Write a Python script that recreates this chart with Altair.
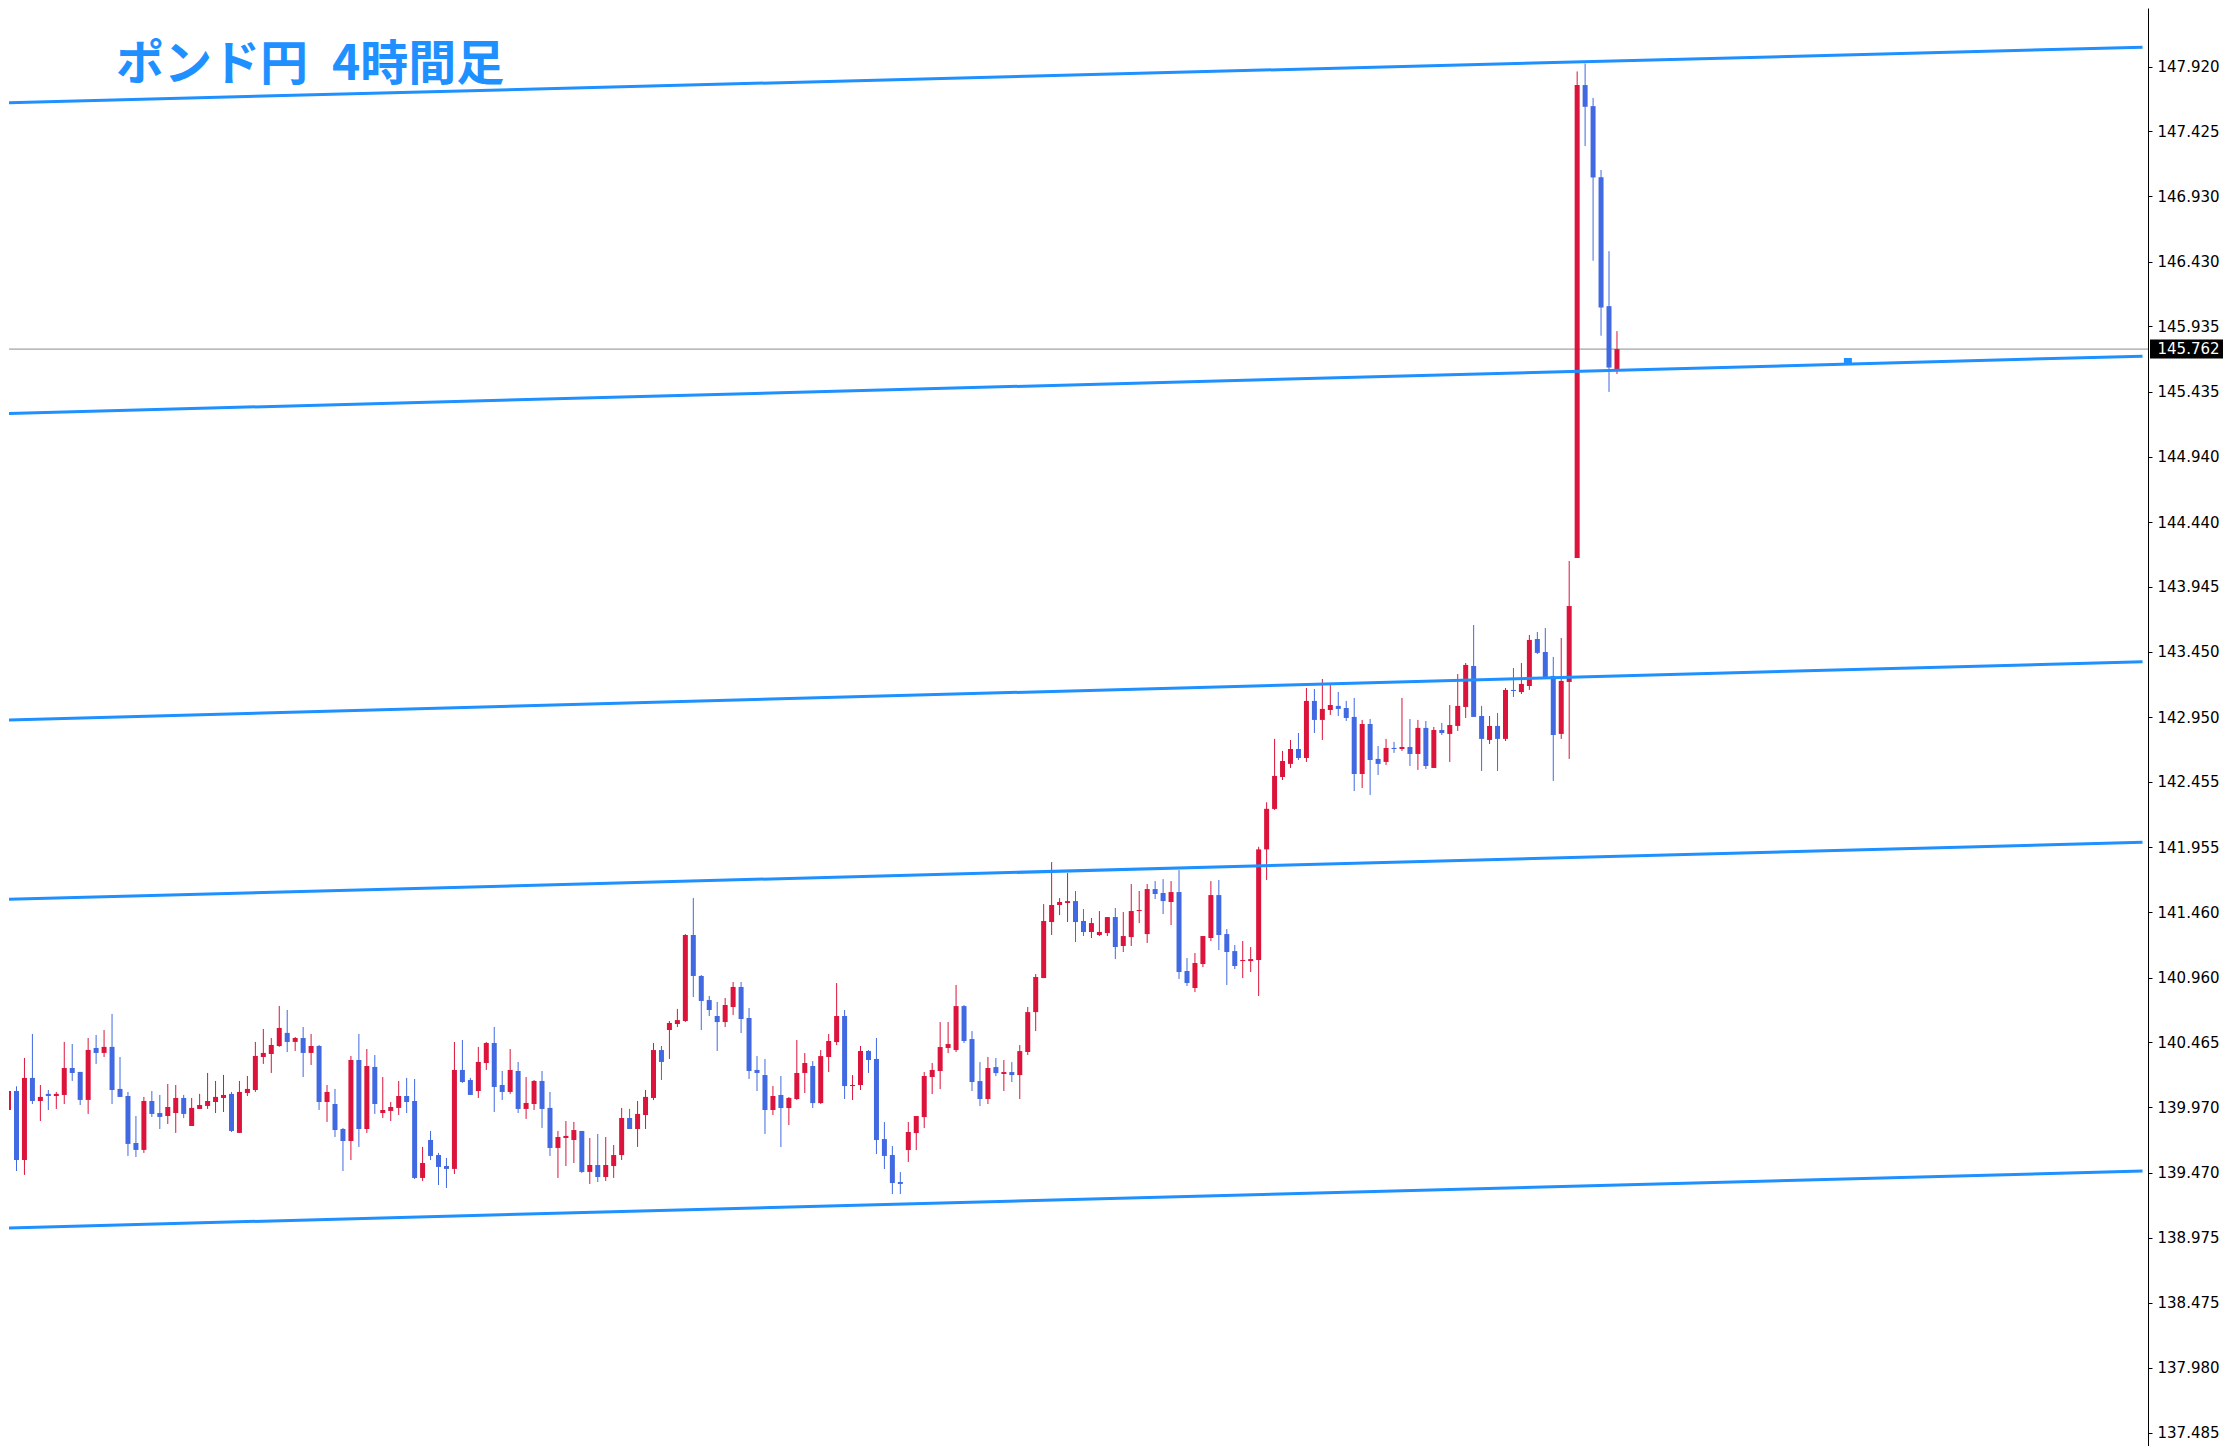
import altair as alt
import pandas as pd

# ---------------- data (GBP/JPY, 4h) ----------------
opens = [
    139.949, 140.094, 139.567, 140.194, 140.018, 140.072, 140.056, 140.064, 140.270, 140.240,
    140.026, 140.423, 140.385, 140.431, 140.110, 140.056, 139.697, 139.644, 140.018, 139.926,
    139.903, 139.926, 140.041, 139.827, 139.957, 139.980, 140.010, 140.041, 140.072, 139.774,
    140.079, 140.102, 140.354, 140.377, 140.438, 140.538, 140.469, 140.499, 140.385, 140.438,
    140.010, 139.995, 139.804, 139.712, 140.331, 139.804, 140.278, 139.926, 139.942, 139.965,
    140.056, 140.018, 139.430, 139.720, 139.605, 139.521, 139.499, 140.255, 140.178, 140.094,
    140.308, 140.461, 140.140, 140.087, 140.247, 139.957, 139.995, 140.171, 139.965, 139.659,
    139.735, 139.720, 139.789, 139.476, 139.529, 139.437, 139.521, 139.605, 139.888, 139.804,
    139.911, 140.041, 140.407, 140.560, 140.606, 140.629, 141.286, 140.973, 140.789, 140.667,
    140.621, 140.736, 140.889, 140.652, 140.255, 140.216, 139.949, 140.064, 139.964, 140.033,
    140.232, 140.285, 140.002, 140.354, 140.468, 140.667, 140.132, 140.140, 140.400, 140.339,
    139.727, 139.605, 139.399, 139.643, 139.773, 139.895, 140.201, 140.247, 140.423, 140.407,
    140.743, 140.491, 140.170, 140.033, 140.277, 140.224, 140.239, 140.216, 140.392, 140.697,
    140.957, 141.385, 141.515, 141.530, 141.545, 141.393, 141.309, 141.286, 141.301, 141.423,
    141.202, 141.270, 141.469, 141.293, 141.637, 141.607, 141.538, 141.614, 141.011, 140.881,
    141.064, 141.263, 141.591, 141.293, 141.163, 141.087, 141.087, 141.095, 141.940, 142.249,
    142.493, 142.593, 142.707, 142.638, 143.074, 142.929, 143.005, 143.036, 143.020, 142.952,
    142.516, 142.898, 142.631, 142.608, 142.715, 142.707, 142.722, 142.669, 142.868, 142.562,
    142.852, 142.822, 142.883, 143.028, 143.341, 142.959, 142.776, 142.883, 142.784, 143.158,
    143.142, 143.188, 143.547, 143.448, 143.265, 142.822, 143.219, 144.166, 147.779, 147.618,
    147.075, 146.090, 145.600,
]
highs = [
    140.110, 140.130, 140.347, 140.530, 140.140, 140.102, 140.087, 140.469, 140.453, 140.240,
    140.499, 140.522, 140.560, 140.683, 140.354, 140.087, 139.903, 140.049, 140.094, 140.064,
    140.148, 140.140, 140.064, 140.041, 140.072, 140.232, 140.171, 140.217, 140.087, 140.171,
    140.209, 140.469, 140.568, 140.499, 140.744, 140.713, 140.507, 140.583, 140.530, 140.446,
    140.140, 140.110, 139.812, 140.362, 140.530, 140.415, 140.369, 140.201, 140.010, 140.171,
    140.194, 140.186, 139.667, 139.789, 139.621, 139.583, 140.469, 140.484, 140.194, 140.431,
    140.469, 140.583, 140.247, 140.415, 140.316, 140.201, 140.178, 140.247, 140.087, 139.789,
    139.865, 139.858, 139.789, 139.735, 139.766, 139.743, 139.682, 139.965, 139.957, 140.018,
    140.102, 140.461, 140.438, 140.629, 140.721, 141.293, 141.568, 140.980, 140.820, 140.774,
    140.805, 140.927, 140.927, 140.728, 140.361, 140.339, 140.132, 140.209, 140.048, 140.484,
    140.384, 140.323, 140.407, 140.530, 140.919, 140.713, 140.216, 140.438, 140.407, 140.499,
    139.857, 139.674, 139.475, 139.857, 139.903, 140.239, 140.308, 140.621, 140.621, 140.904,
    140.751, 140.552, 140.315, 140.354, 140.346, 140.331, 140.315, 140.445, 140.736, 140.988,
    141.522, 141.843, 141.568, 141.759, 141.622, 141.484, 141.416, 141.469, 141.423, 141.492,
    141.461, 141.675, 141.622, 141.675, 141.698, 141.713, 141.698, 141.782, 141.110, 141.148,
    141.278, 141.698, 141.706, 141.331, 141.209, 141.240, 141.194, 141.960, 142.300, 142.784,
    142.692, 142.776, 142.829, 143.173, 143.165, 143.242, 143.196, 143.143, 143.074, 143.097,
    142.929, 142.936, 142.730, 142.784, 142.761, 143.097, 142.936, 142.929, 142.921, 142.875,
    142.906, 143.043, 143.280, 143.364, 143.654, 143.036, 142.959, 142.982, 143.173, 143.326,
    143.364, 143.578, 143.601, 143.631, 143.410, 143.555, 144.143, 147.883, 147.943, 147.681,
    147.130, 146.510, 145.899,
]
lows = [
    139.929, 139.483, 139.453, 139.995, 139.865, 139.949, 139.957, 139.995, 140.171, 139.987,
    139.919, 140.301, 140.354, 139.995, 140.049, 139.598, 139.590, 139.621, 139.896, 139.804,
    139.842, 139.774, 139.888, 139.827, 139.957, 139.957, 139.926, 139.934, 139.781, 139.774,
    140.056, 140.087, 140.301, 140.232, 140.431, 140.392, 140.400, 140.201, 140.293, 139.949,
    139.858, 139.743, 139.483, 139.567, 139.667, 139.774, 139.919, 139.888, 139.865, 139.911,
    139.926, 139.422, 139.407, 139.567, 139.376, 139.353, 139.460, 140.156, 140.064, 140.041,
    140.255, 139.934, 140.026, 140.072, 139.926, 139.881, 139.949, 139.812, 139.598, 139.430,
    139.521, 139.544, 139.468, 139.384, 139.399, 139.407, 139.430, 139.567, 139.804, 139.667,
    139.804, 140.025, 140.178, 140.339, 140.583, 140.621, 140.812, 140.560, 140.667, 140.400,
    140.583, 140.675, 140.537, 140.186, 140.094, 139.766, 139.911, 139.666, 139.834, 140.025,
    140.079, 139.964, 139.995, 140.239, 140.445, 140.033, 140.025, 140.102, 140.232, 139.613,
    139.498, 139.307, 139.307, 139.552, 139.643, 139.811, 140.071, 140.109, 140.384, 140.392,
    140.461, 140.094, 139.979, 139.995, 140.208, 140.094, 140.163, 140.033, 140.369, 140.552,
    140.957, 141.286, 141.438, 141.385, 141.232, 141.278, 141.263, 141.278, 141.278, 141.102,
    141.156, 141.202, 141.377, 141.225, 141.561, 141.446, 141.362, 140.950, 140.896, 140.850,
    141.041, 141.240, 141.171, 140.904, 141.026, 140.957, 141.003, 140.820, 141.706, 142.241,
    142.470, 142.562, 142.623, 142.608, 142.829, 142.776, 142.967, 142.959, 142.921, 142.386,
    142.409, 142.356, 142.508, 142.585, 142.677, 142.692, 142.577, 142.547, 142.554, 142.562,
    142.814, 142.608, 142.845, 142.944, 142.952, 142.539, 142.745, 142.539, 142.768, 143.104,
    143.127, 143.158, 143.433, 143.245, 142.463, 142.784, 142.631, 144.166, 147.313, 146.437,
    145.864, 145.435, 145.572,
]
closes = [
    140.094, 139.567, 140.194, 140.018, 140.049, 140.056, 140.072, 140.270, 140.232, 140.026,
    140.408, 140.385, 140.431, 140.102, 140.049, 139.690, 139.644, 140.018, 139.919, 139.896,
    139.972, 140.041, 139.919, 139.965, 139.987, 140.018, 140.049, 140.064, 139.789, 140.087,
    140.110, 140.362, 140.385, 140.446, 140.576, 140.469, 140.499, 140.385, 140.438, 140.010,
    140.087, 139.796, 139.712, 140.331, 139.804, 140.285, 139.995, 139.949, 139.972, 140.056,
    140.010, 139.430, 139.544, 139.598, 139.514, 139.499, 140.255, 140.163, 140.064, 140.316,
    140.461, 140.125, 140.087, 140.255, 139.957, 140.003, 140.171, 139.957, 139.659, 139.743,
    139.751, 139.796, 139.476, 139.529, 139.437, 139.529, 139.605, 139.888, 139.804, 139.919,
    140.049, 140.407, 140.316, 140.614, 140.636, 141.286, 140.973, 140.782, 140.713, 140.621,
    140.751, 140.889, 140.644, 140.247, 140.232, 139.949, 140.056, 139.964, 140.041, 140.232,
    140.308, 140.002, 140.361, 140.476, 140.667, 140.132, 140.140, 140.400, 140.331, 139.720,
    139.598, 139.391, 139.384, 139.781, 139.903, 140.209, 140.255, 140.430, 140.453, 140.743,
    140.476, 140.163, 140.033, 140.270, 140.231, 140.239, 140.216, 140.399, 140.697, 140.965,
    141.393, 141.515, 141.538, 141.545, 141.385, 141.309, 141.377, 141.309, 141.423, 141.194,
    141.278, 141.469, 141.477, 141.637, 141.599, 141.545, 141.614, 141.003, 140.919, 141.072,
    141.278, 141.591, 141.286, 141.156, 141.049, 141.095, 141.102, 141.940, 142.250, 142.501,
    142.615, 142.707, 142.638, 143.074, 142.929, 143.013, 143.043, 143.013, 142.944, 142.516,
    142.898, 142.623, 142.593, 142.715, 142.707, 142.722, 142.669, 142.868, 142.577, 142.852,
    142.829, 142.890, 143.036, 143.349, 142.952, 142.784, 142.883, 142.784, 143.158, 143.150,
    143.204, 143.540, 143.441, 143.250, 142.814, 143.227, 143.799, 147.779, 147.613, 147.073,
    146.079, 145.621, 145.762,
]

price_ticks = [147.920, 147.425, 146.930, 146.430, 145.935, 145.435, 144.940, 144.440,
               143.945, 143.450, 142.950, 142.455, 141.955, 141.460, 140.960, 140.465,
               139.970, 139.470, 138.975, 138.475, 137.980, 137.485]

# channel (trend) lines: price at the first bar slot and at the last slot before the axis
channel_names = ["top", "upper", "middle", "lower", "bottom"]
channel_slots = [0, 268]
channel_left = [147.644, 145.270, 142.929, 141.559, 139.048]
channel_right = [148.068, 145.708, 143.374, 141.994, 139.483]

current_price = [145.762]
marker_slot = [231]
marker_price = [145.675]

title_text = "ポンド円\u20024時間足"

# ---------------- layout / style ----------------
W, H = 2139, 1438
X_DOMAIN = [0.6875, 268.0625]
Y_DOMAIN = [137.3822, 148.3677]
RED, BLUE, LINE_BLUE = "#DC143C", "#4169E1", "#1E90FF"

df = pd.DataFrame({"i": list(range(len(opens))), "open": opens, "high": highs,
                   "low": lows, "close": closes})
df["dir"] = ["up" if c >= o else "down" for o, c in zip(opens, closes)]

rows = []
for n, a, b in zip(channel_names, channel_left, channel_right):
    rows.append({"name": n, "i": channel_slots[0], "p": a})
    rows.append({"name": n, "i": channel_slots[1], "p": b})
lines_df = pd.DataFrame(rows)

price_df = pd.DataFrame({"p": current_price})
marker_df = pd.DataFrame({"i": marker_slot, "p": marker_price})
title_df = pd.DataFrame({"t": [title_text]})

xs = alt.Scale(domain=X_DOMAIN, nice=False, zero=False)
ys = alt.Scale(domain=Y_DOMAIN, nice=False, zero=False)
color = alt.Color("dir:N", scale=alt.Scale(domain=["up", "down"], range=[RED, BLUE]), legend=None)

y_axis = alt.Axis(orient="right", values=price_ticks, format=".3f", title=None, grid=False,
                  domainColor="black", domainWidth=1, tickColor="black", tickSize=4, tickWidth=1,
                  labelFont="DejaVu Sans", labelFontSize=15, labelColor="black", labelPadding=5,
                  labelOverlap=False, labelBound=False, labelFlush=False)


def Yp(field):
    return alt.Y(field, scale=ys, axis=y_axis)


price_rule = alt.Chart(price_df).mark_rule(color="#8C8C8C", strokeWidth=1).encode(
    y=Yp("p:Q"))

wicks = alt.Chart(df).mark_rule(strokeWidth=1, clip=True).encode(
    x=alt.X("i:Q", scale=xs, axis=None),
    y=Yp("low:Q"),
    y2="high:Q",
    color=color)

bodies = alt.Chart(df).mark_bar(size=5, clip=True).encode(
    x=alt.X("i:Q", scale=xs, axis=None),
    y=Yp("open:Q"),
    y2="close:Q",
    color=color)

channels = alt.Chart(lines_df).mark_line(color=LINE_BLUE, clip=True).encode(
    x=alt.X("i:Q", scale=xs, axis=None),
    y=Yp("p:Q"),
    strokeWidth=alt.StrokeWidth("name:N", scale=alt.Scale(domain=channel_names,
                                                          range=[3, 3, 2, 3, 3]), legend=None))

marker = alt.Chart(marker_df).mark_tick(orient="horizontal", size=8, thickness=5, opacity=1,
                                        color=LINE_BLUE, clip=True).encode(
    x=alt.X("i:Q", scale=xs, axis=None),
    y=Yp("p:Q"))

price_box = alt.Chart(price_df).mark_tick(orient="horizontal", size=73, thickness=19,
                                          opacity=1, color="black").encode(
    y=Yp("p:Q"),
    x=alt.value(W + 38.5))

price_text = alt.Chart(price_df).mark_text(color="white", align="left", baseline="middle",
                                           font="DejaVu Sans", fontSize=15).encode(
    y=Yp("p:Q"),
    x=alt.value(W + 9.5),
    text=alt.Text("p:Q", format=".3f"))

title = alt.Chart(title_df).mark_text(align="left", baseline="alphabetic",
                                      font="Noto Sans CJK JP", fontSize=48, fontWeight="bold",
                                      color=LINE_BLUE).encode(
    x=alt.value(107), y=alt.value(72), text="t:N")

chart = alt.layer(price_rule, wicks, bodies, channels, marker, price_box, price_text, title).properties(
    width=W, height=H, padding=0
).configure_view(strokeWidth=0)

chart.save("out.html", embed_options={"renderer": "svg", "actions": False})
